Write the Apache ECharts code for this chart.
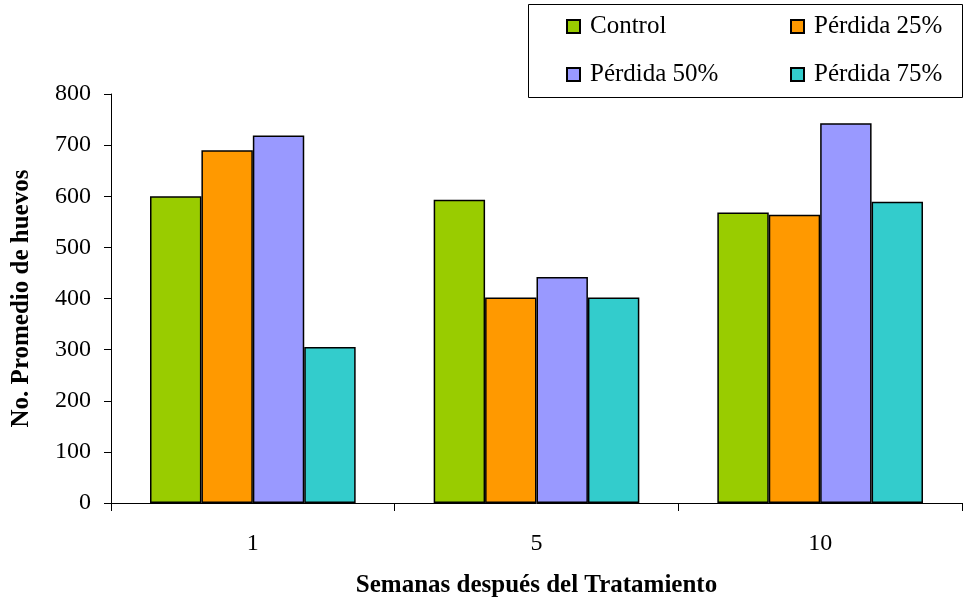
<!DOCTYPE html>
<html>
<head>
<meta charset="utf-8">
<script src="https://cdn.jsdelivr.net/npm/echarts@6/dist/echarts.min.js"></script>
<style>
  html, body { margin: 0; padding: 0; background: #fff; }
  #chart { width: 964px; height: 603px; }
</style>
</head>
<body>
<div id="chart"></div>
<script>
// Semanas después del tratamiento
const categories = ['1', '5', '10'];
const seriesNames = ['Control', 'Pérdida 25%', 'Pérdida 50%', 'Pérdida 75%'];
const control = [600, 593, 568];
const perdida25 = [690, 402, 564];
const perdida50 = [719, 442, 743];
const perdida75 = [305, 402, 589];
const yTicks = [0, 100, 200, 300, 400, 500, 600, 700, 800];

const values = [control, perdida25, perdida50, perdida75];
const colors = ['#99CC00', '#FF9900', '#9999FF', '#33CCCC'];
const FONT = '"Liberation Serif", "Times New Roman", serif';

const chart = echarts.init(document.getElementById('chart'), null, { renderer: 'canvas' });

// One legend per entry so the two columns line up
const legendPos = [
  { left: 566, top: 14 },
  { left: 790, top: 14 },
  { left: 566, top: 62 },
  { left: 790, top: 62 }
];
const legends = seriesNames.map((name, i) => ({
  data: [{ name: name, icon: 'rect' }],
  left: legendPos[i].left,
  top: legendPos[i].top,
  itemWidth: 13,
  itemHeight: 13,
  padding: 0,
  selectedMode: false,
  textStyle: { fontFamily: FONT, fontSize: 25, color: '#000', padding: [0, 0, 0, 5] }
}));

chart.setOption({
  animation: false,
  backgroundColor: '#fff',
  textStyle: { fontFamily: FONT },
  graphic: [{
    type: 'rect',
    shape: { x: 528.5, y: 4.5, width: 434, height: 93 },
    style: { fill: '#fff', stroke: '#000', lineWidth: 1 },
    z: -1
  }],
  legend: legends,
  grid: { left: 111, right: 2, top: 94, bottom: 95, containLabel: false },
  xAxis: {
    type: 'category',
    data: categories,
    name: 'Semanas después del Tratamiento',
    nameLocation: 'middle',
    nameGap: 70,
    nameTextStyle: { fontFamily: FONT, fontSize: 25, fontWeight: 'bold', color: '#000' },
    axisLine: { lineStyle: { color: '#000', width: 1 } },
    axisTick: { show: true, length: 8, alignWithLabel: false, lineStyle: { color: '#000' } },
    axisLabel: { fontFamily: FONT, fontSize: 24, color: '#000', margin: 29 }
  },
  yAxis: {
    type: 'value',
    min: 0,
    max: 800,
    interval: 100,
    name: 'No. Promedio de huevos',
    nameLocation: 'middle',
    nameGap: 77,
    nameTextStyle: { fontFamily: FONT, fontSize: 25, fontWeight: 'bold', color: '#000' },
    axisLine: { show: true, lineStyle: { color: '#000', width: 1 } },
    axisTick: { show: true, length: 7, lineStyle: { color: '#000' } },
    splitLine: { show: false },
    axisLabel: {
      fontFamily: FONT, fontSize: 24, color: '#000', margin: 20,
      formatter: v => (yTicks.indexOf(v) >= 0 ? String(v) : '')
    }
  },
  series: seriesNames.map((name, i) => ({
    name: name,
    type: 'bar',
    data: values[i],
    barGap: '0%',
    barCategoryGap: '27.5%',
    itemStyle: { color: colors[i], borderColor: '#000', borderWidth: 1.5 }
  }))
});
</script>
</body>
</html>
